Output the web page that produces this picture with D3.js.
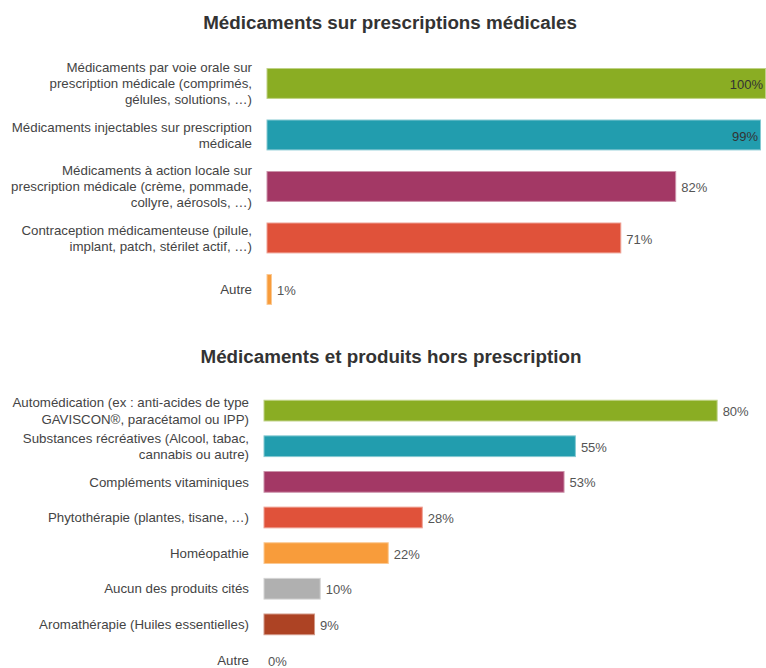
<!DOCTYPE html>
<html>
<head>
<meta charset="utf-8">
<script src="https://cdn.jsdelivr.net/npm/d3@7"></script>
<style>
  html, body { margin: 0; padding: 0; background: #fff; }
  svg { display: block; font-family: "Liberation Sans", Arial, sans-serif; }
</style>
</head>
<body>
<svg id="chart" width="766" height="668"></svg>
<script>
// Prescription medicines
const rxTitle = "Médicaments sur prescriptions médicales";
const rxCategories = [
  "Médicaments par voie orale sur\nprescription médicale (comprimés,\ngélules, solutions, …)",
  "Médicaments injectables sur prescription\nmédicale",
  "Médicaments à action locale sur\nprescription médicale (crème, pommade,\ncollyre, aérosols, …)",
  "Contraception médicamenteuse (pilule,\nimplant, patch, stérilet actif, …)",
  "Autre"
];
const rxValues = [100, 99, 82, 71, 1];
const rxColors = ["#8aad23", "#229dae", "#a33865", "#e0523a", "#f89c3b"];

// Non-prescription products
const otcTitle = "Médicaments et produits hors prescription";
const otcCategories = [
  "Automédication (ex : anti-acides de type\nGAVISCON®, paracétamol ou IPP)",
  "Substances récréatives (Alcool, tabac,\ncannabis ou autre)",
  "Compléments vitaminiques",
  "Phytothérapie (plantes, tisane, …)",
  "Homéopathie",
  "Aucun des produits cités",
  "Aromathérapie (Huiles essentielles)",
  "Autre"
];
const otcValues = [80, 55, 53, 28, 22, 10, 9, 0];
const otcColors = ["#8aad23", "#229dae", "#a33865", "#e0523a", "#f89c3b", "#b0b0b0", "#ad4324", "#888888"];

const svg = d3.select("#chart");
const W = 766;

function panel(cfg) {
  const g = svg.append("g");

  g.append("text")
    .attr("x", cfg.titleX)
    .attr("y", cfg.titleY)
    .attr("text-anchor", "middle")
    .attr("dominant-baseline", "central")
    .attr("font-size", 18.8)
    .attr("font-weight", "bold")
    .attr("fill", "#333")
    .text(cfg.title);

  const x = d3.scaleLinear().domain([0, cfg.max]).range([cfg.x0, cfg.x1]);
  const y = d3.scaleBand()
    .domain(cfg.categories)
    .range([cfg.y0, cfg.y1])
    .paddingInner(cfg.pad)
    .paddingOuter(cfg.pad / 2);

  const rows = g.selectAll("g.row")
    .data(cfg.categories.map((c, i) => ({ c, v: cfg.values[i], col: cfg.colors[i] })))
    .join("g").attr("class", "row");

  rows.filter(d => d.v > 0).append("rect")
    .attr("x", x(0))
    .attr("y", d => y(d.c) + 0.5)
    .attr("width", d => x(d.v) - x(0) - 0.5)
    .attr("height", y.bandwidth() - 1)
    .attr("fill", d => d.col)
    .attr("stroke", d => d3.interpolateRgb(d.col, "#ffffff")(0.45))
    .attr("stroke-width", 1);

  // Category labels, right-aligned, one tspan per line
  const lh = cfg.lineHeight;
  rows.append("text")
    .attr("text-anchor", "end")
    .attr("font-size", 13.3)
    .attr("fill", "#444")
    .each(function (d) {
      const lines = d.c.split("\n");
      const cy = y(d.c) + y.bandwidth() / 2;
      const start = cy - (lines.length - 1) * lh / 2;
      const t = d3.select(this);
      lines.forEach((ln, k) => {
        t.append("tspan")
          .attr("x", x(0) - 15)
          .attr("y", start + k * lh)
          .attr("dy", "0.35em")
          .text(ln);
      });
    });

  // Value labels: outside the bar, or inside its end when there is no room
  rows.append("text")
    .attr("font-size", 13)
    .attr("dy", "0.35em")
    .attr("y", d => y(d.c) + y.bandwidth() / 2 + 1)
    .text(d => d.v + "%")
    .each(function (d) {
      const t = d3.select(this);
      const w = this.getComputedTextLength();
      const end = x(d.v);
      if (end + 5 + w > W) {
        t.attr("x", end - 3).attr("text-anchor", "end").attr("fill", "#333");
      } else {
        t.attr("x", end + (d.v > 0 ? 5 : 4)).attr("text-anchor", "start").attr("fill", "#555");
      }
    });
}

panel({
  title: rxTitle, titleX: 390, titleY: 22,
  categories: rxCategories, values: rxValues, colors: rxColors,
  max: 100, x0: 267, x1: 766,
  y0: 57.7, y1: 315.2, pad: 0.4, lineHeight: 15.8
});

panel({
  title: otcTitle, titleX: 391, titleY: 356,
  categories: otcCategories, values: otcValues, colors: otcColors,
  max: 88, x0: 264, x1: 763,
  y0: 392.8, y1: 677.8, pad: 0.39, lineHeight: 16.5
});
</script>
</body>
</html>
